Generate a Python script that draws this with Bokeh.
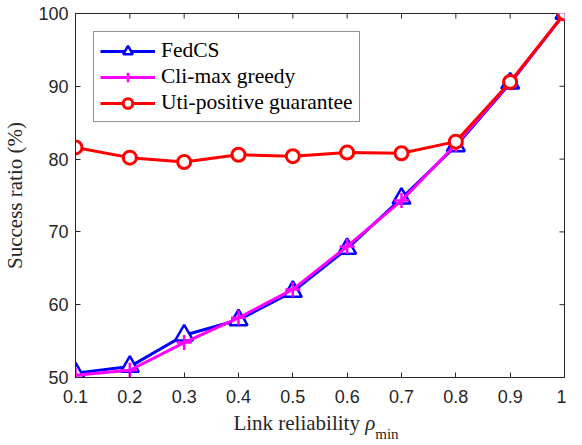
from bokeh.plotting import figure
from bokeh.models import Range1d, FixedTicker, Legend, Div
from bokeh.layouts import column
from bokeh.embed import file_html
from bokeh.resources import INLINE
import math

x_vals = [0.1, 0.2, 0.3, 0.4, 0.5, 0.6, 0.7, 0.8, 0.9, 1.0]
fedcs = [50.6, 51.5, 55.8, 57.9, 61.8, 67.7, 74.6, 81.8, 90.4, 100.0]
climax = [50.3, 51.0, 54.8, 58.2, 62.1, 68.0, 74.3, 82.0, 90.5, 100.0]
uti = [81.6, 80.2, 79.6, 80.6, 80.4, 80.9, 80.8, 82.4, 90.6, 100.0]
x_ticks = [0.1, 0.2, 0.3, 0.4, 0.5, 0.6, 0.7, 0.8, 0.9, 1.0]
x_tick_labels = {0.1: "0.1", 0.2: "0.2", 0.3: "0.3", 0.4: "0.4", 0.5: "0.5",
                 0.6: "0.6", 0.7: "0.7", 0.8: "0.8", 0.9: "0.9", 1.0: "1"}
y_ticks = [50, 60, 70, 80, 90, 100]
x_lo, x_hi, y_lo, y_hi = 0.1, 1.0, 50, 100

AX = "#262626"
SERIF = "Liberation Serif"
SANS = "Liberation Sans"

p = figure(width=566, height=410, output_backend="svg", toolbar_location=None,
           x_range=Range1d(x_lo, x_hi), y_range=Range1d(y_lo, y_hi),
           min_border_left=68, min_border_right=2, min_border_top=13,
           min_border_bottom=33, margin=(0, 0, 0, 0))
p.grid.visible = False
p.outline_line_color = AX
p.outline_line_width = 1

for ax in (p.xaxis[0], p.yaxis[0]):
    ax.axis_line_color = AX
    ax.major_tick_line_color = AX
    ax.major_tick_in = 5
    ax.major_tick_out = 0
    ax.minor_tick_line_color = None
    ax.major_label_text_font = SANS
    ax.major_label_text_font_size = "18px"
    ax.major_label_text_color = AX

p.xaxis[0].ticker = FixedTicker(ticks=x_ticks)
p.xaxis[0].major_label_overrides = x_tick_labels
p.xaxis[0].major_label_standoff = 12
p.yaxis[0].ticker = FixedTicker(ticks=y_ticks)
p.yaxis[0].major_label_standoff = 7
p.yaxis[0].axis_label = "Success ratio (%)"
p.yaxis[0].axis_label_text_font = SERIF
p.yaxis[0].axis_label_text_font_size = "21px"
p.yaxis[0].axis_label_text_font_style = "normal"
p.yaxis[0].axis_label_text_color = AX
p.yaxis[0].axis_label_standoff = 8

# inward ticks on top and right edges (outer halves clipped by the frame)
p.scatter(x_ticks, [y_hi] * len(x_ticks), marker="dash", size=10, angle=math.pi / 2,
          line_color=AX, line_width=1)
p.scatter([x_hi] * len(y_ticks), y_ticks, marker="dash", size=10,
          line_color=AX, line_width=1)

r1 = p.line(x_vals, fedcs, line_color="blue", line_width=3)
s1 = p.scatter(x_vals, fedcs, marker="triangle", size=18, line_color="blue",
               line_width=2.5, fill_color="white")
r2 = p.line(x_vals, climax, line_color="magenta", line_width=3)
s2 = p.scatter(x_vals, climax, marker="cross", size=15, line_color="magenta",
               line_width=2.5)
r3 = p.line(x_vals, uti, line_color="red", line_width=3)
s3 = p.scatter(x_vals, uti, marker="circle", size=13, line_color="red",
               line_width=3, fill_color="white")

legend = Legend(items=[("FedCS", [r1, s1]), ("Cli-max greedy", [r2, s2]),
                       ("Uti-positive guarantee", [r3, s3])],
                location="top_left", margin=18, padding=6, spacing=1,
                label_text_font=SERIF, label_text_font_size="21.5px",
                label_text_color="black", label_height=24, glyph_height=24,
                glyph_width=55, label_standoff=6,
                border_line_color=AX, border_line_width=1,
                background_fill_color="white", background_fill_alpha=1.0)
p.add_layout(legend, "center")

xlabel_html = (
    '<div style="box-sizing:content-box; width:496px; padding-left:68px; '
    'font-family:\'Liberation Serif\'; font-size:21px; color:#262626; '
    'text-align:center; line-height:24px; white-space:nowrap;">'
    'Link reliability <i>&rho;</i>'
    '<span style="font-size:15px; position:relative; top:9px;">min</span></div>'
)
xlabel = Div(text=xlabel_html, width=566, height=24, margin=(1, 0, 0, 0))

layout = column(p, xlabel, spacing=0)
open("out.html", "w").write(file_html(layout, INLINE))
